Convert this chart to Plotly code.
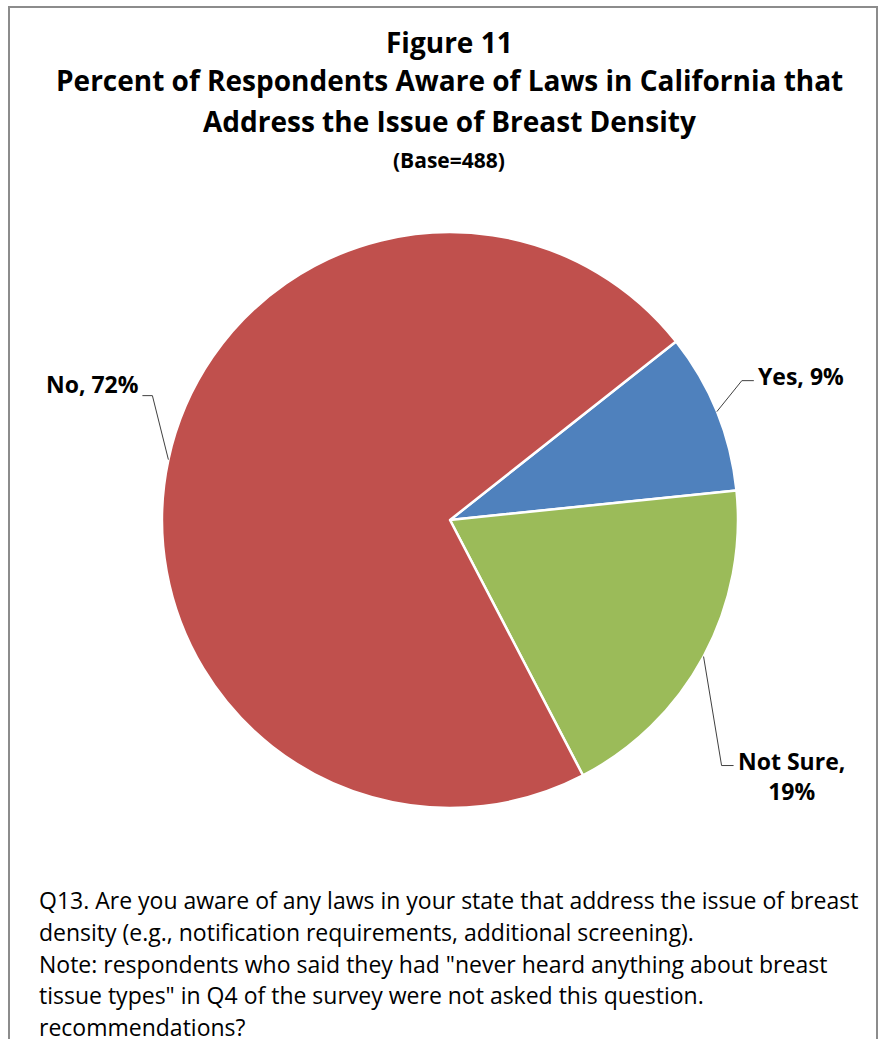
import math
import plotly.graph_objects as go

# Survey responses (percent of respondents)
categories = ["Yes", "Not Sure", "No"]
values = [9, 19, 72]
colors = ["#4F81BD", "#9BBB59", "#C0504D"]

W, H = 883, 1039
CX, CY, R = 450, 520, 288          # pie centre and radius in pixels
ROTATION = 51.7                     # start angle of the first slice (deg from 12 o'clock, clockwise)
FONT = "Open Sans, sans-serif"


def px(x):
    return x / W


def py(y):
    return 1 - y / H


fig = go.Figure(go.Pie(
    labels=categories,
    values=values,
    sort=False,
    direction="clockwise",
    rotation=ROTATION,
    marker=dict(colors=colors, line=dict(color="white", width=2.5)),
    textinfo="none",
    hoverinfo="label+percent",
    showlegend=False,
    domain=dict(x=[px(CX - R), px(CX + R)], y=[py(CY + R), py(CY - R)]),
))

# mid-angle of each slice, used to anchor the leader lines on the rim
total = sum(values)
mids = []
acc = ROTATION
for v in values:
    span = 360 * v / total
    mids.append(acc + span / 2)
    acc += span


def rim(angle_deg):
    a = math.radians(angle_deg)
    return CX + R * math.sin(a), CY - R * math.cos(a)


# leader line elbows (dx, dy from rim point) and horizontal tail
leaders = {
    "Yes": dict(elbow=(25, -31), tail=12, label=(756, 376), anchor="left"),
    "Not Sure": dict(elbow=(18, 109), tail=12, label=(736, 776), anchor="left"),
    "No": dict(elbow=(-16, -64), tail=-10, label=(141, 384), anchor="right"),
}

shapes = []
annotations = []
for cat, v, m in zip(categories, values, mids):
    sx, sy = rim(m)
    cfg = leaders[cat]
    ex, ey = sx + cfg["elbow"][0], sy + cfg["elbow"][1]
    tx = ex + cfg["tail"]
    path = f"M {px(sx)},{py(sy)} L {px(ex)},{py(ey)} L {px(tx)},{py(ey)}"
    shapes.append(dict(type="path", path=path, xref="paper", yref="paper",
                       line=dict(color="#404040", width=1)))
    text = f"{cat},<br>{v}%" if cat == "Not Sure" else f"{cat}, {v}%"
    annotations.append(dict(
        x=px(cfg["label"][0]), y=py(cfg["label"][1]), xref="paper", yref="paper",
        text=f"<b>{text}</b>", showarrow=False, xanchor=cfg["anchor"], yanchor="middle",
        align="center", font=dict(family=FONT, size=23, color="black"),
    ))

# outer frame (open at the bottom edge of the page)
shapes.append(dict(type="rect", xref="paper", yref="paper",
                   x0=px(9), x1=px(877), y0=py(1045), y1=py(7),
                   line=dict(color="#8C8C8C", width=2)))

# title block
title_lines = [
    ("Figure 11", 42, 28),
    ("Percent of Respondents Aware of Laws in California that", 80, 28),
    ("Address the Issue of Breast Density", 121, 28),
    ("(Base=488)", 160, 21),
]
for txt, y, size in title_lines:
    annotations.append(dict(
        x=px(449), y=py(y), xref="paper", yref="paper", text=f"<b>{txt}</b>",
        showarrow=False, xanchor="center", yanchor="middle",
        font=dict(family=FONT, size=size, color="black"),
    ))

# question / note text
note_lines = [
    "Q13. Are you aware of any laws in your state that address the issue of breast",
    "density (e.g., notification requirements, additional screening).",
    'Note: respondents who said they had "never heard anything about breast',
    'tissue types" in Q4 of the survey were not asked this question.',
    "recommendations?",
]
for i, txt in enumerate(note_lines):
    annotations.append(dict(
        x=px(37), y=py(900 + 31.8 * i), xref="paper", yref="paper", text=txt,
        showarrow=False, xanchor="left", yanchor="middle",
        font=dict(family=FONT, size=23, color="black"),
    ))

fig.update_layout(
    width=W, height=H,
    margin=dict(l=0, r=0, t=0, b=0),
    paper_bgcolor="white", plot_bgcolor="white",
    shapes=shapes, annotations=annotations,
)

fig.write_html("out.html")
